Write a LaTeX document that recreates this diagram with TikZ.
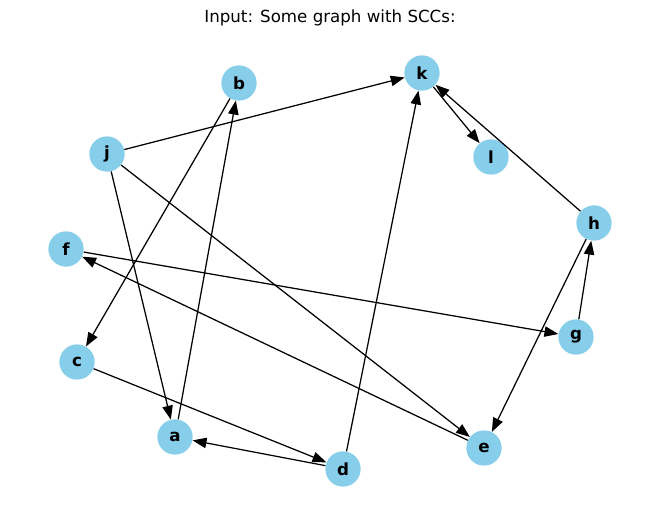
\documentclass[tikz,border=0pt]{standalone}
\usepackage{fontspec}
\setmainfont{DejaVu Sans}
\usepackage{tikz}
\usetikzlibrary{arrows.meta}
\definecolor{skyblue}{HTML}{87CEEB}
\tikzset{
    vertex/.style={circle, fill=skyblue, draw=none, minimum size=25.4pt, inner sep=0pt, text centered, font=\bfseries\fontsize{12}{14}\selectfont},
    arrow/.style={line width=0.9pt, -{Triangle[length=10pt, width=7.5pt]}}
}

\begin{document}
\begin{tikzpicture}[x=0.72pt, y=-0.72pt]
    \useasboundingbox (0,0) rectangle (660,522);
    % Title
    \node (title) at (330,18) {\fontsize{12}{14}\selectfont Input: Some graph with SCCs:};
    % Nodes
    \node (b) [vertex] at (239,83) {b};
    \node (k) [vertex] at (422,73) {k};
    \node (j) [vertex] at (107,154) {j};
    \node (l) [vertex] at (491,157) {l};
    \node (h) [vertex] at (594,223) {h};
    \node (f) [vertex] at (66,249) {f};
    \node (g) [vertex] at (576,337) {g};
    \node (c) [vertex] at (77,362) {c};
    \node (a) [vertex] at (175,437) {a};
    \node (e) [vertex] at (484,448) {e};
    \node (d) [vertex] at (343,469) {d};
    % Arrows
    \draw [arrow] (j) -- (k);
    \draw [arrow] (j) -- (a);
    \draw [arrow] (j) -- (e);
    \draw [arrow] (b) -- (c);
    \draw [arrow] (a) -- (b);
    \draw [arrow] (k) -- (l);
    \draw [arrow] (h) -- (k);
    \draw [arrow] (h) -- (e);
    \draw [arrow] (g) -- (h);
    \draw [arrow] (f) -- (g);
    \draw [arrow] (e) -- (f);
    \draw [arrow] (c) -- (d);
    \draw [arrow] (d) -- (a);
    \draw [arrow] (d) -- (k);
\end{tikzpicture}
\end{document}
